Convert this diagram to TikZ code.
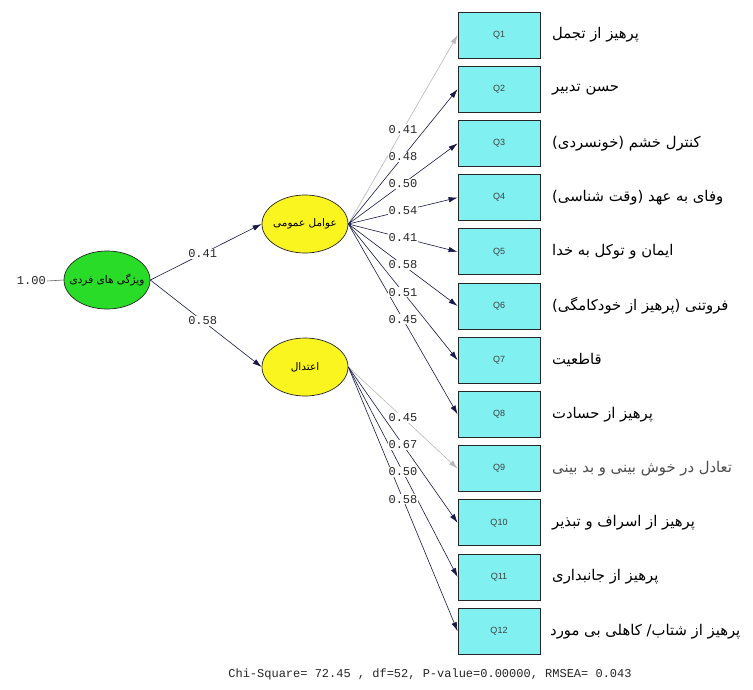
\documentclass[tikz,border=0pt]{standalone}
\usepackage{fontspec}
\usetikzlibrary{shapes.geometric,arrows.meta}
\TeXXeTstate=1
\newfontfamily\arabicfont[Script=Arabic]{DejaVu Sans}
\newfontfamily\monofont{Liberation Mono}
\newfontfamily\qfont{Liberation Sans}
\definecolor{latgreen}{RGB}{40,220,40}
\definecolor{latyellow}{RGB}{250,245,30}
\definecolor{boxcyan}{RGB}{128,240,240}
\definecolor{arrnavy}{RGB}{25,25,75}
\definecolor{arrgray}{RGB}{185,185,185}
\tikzset{
  latent/.style={ellipse, draw=black!85, line width=0.7pt, minimum width=86pt, minimum height=58pt, inner sep=0pt},
  lattext/.style={font=\arabicfont\fontsize{10.5}{12}\selectfont, inner sep=0pt},
  obs/.style={rectangle, draw=black!85, line width=0.8pt, fill=boxcyan, minimum width=82pt, minimum height=46pt, inner sep=0pt, font=\qfont\fontsize{9}{10}\selectfont, text=black!75},
  lab/.style={anchor=west, inner sep=0pt, font=\arabicfont\fontsize{14.8}{17}\selectfont},
  arr/.style={draw=arrnavy, line width=0.6pt, -{Latex[length=9pt,width=5.5pt]}},
  garr/.style={draw=arrgray, line width=0.6pt, -{Latex[length=9pt,width=5.5pt]}},
  lbl/.style={fill=white, inner sep=1pt, font=\monofont\fontsize{12}{13}\selectfont, text=black!85},
}
\begin{document}
\begin{tikzpicture}[x=1pt,y=-1pt]
\useasboundingbox (0,0) rectangle (753,689);
\fill[white] (0,0) rectangle (753,689);

% latent variables
\node[latent, fill=latgreen, label={[lattext]center:\beginR ویژگی های فردی\endR}] (g) at (107,280) {};
\node[latent, fill=latyellow, label={[lattext]center:\beginR عوامل عمومی\endR}] (f1) at (305,224) {};
\node[latent, fill=latyellow, label={[lattext]center:\beginR اعتدال\endR}] (f2) at (305,367) {};

% observed variables
\node[obs] (q1)  at (499,35.0)  {Q1};
\node[obs] (q2)  at (499,89.2)  {Q2};
\node[obs] (q3)  at (499,143.4) {Q3};
\node[obs] (q4)  at (499,197.6) {Q4};
\node[obs] (q5)  at (499,251.8) {Q5};
\node[obs] (q6)  at (499,306.0) {Q6};
\node[obs] (q7)  at (499,360.2) {Q7};
\node[obs] (q8)  at (499,414.4) {Q8};
\node[obs] (q9)  at (499,468.6) {Q9};
\node[obs] (q10) at (499,522.8) {Q10};
\node[obs] (q11) at (499,577.0) {Q11};
\node[obs] (q12) at (499,631.2) {Q12};

% item labels
\node[lab] (l1)  at (552,35.0)  {\beginR پرهیز از تجمل\endR};
\node[lab] (l2)  at (552,89.2)  {\beginR حسن تدبیر\endR};
\node[lab] (l3)  at (552,143.4) {\beginR کنترل خشم (خونسردی)\endR};
\node[lab] (l4)  at (552,197.6) {\beginR وفای به عهد (وقت شناسی)\endR};
\node[lab] (l5)  at (552,251.8) {\beginR ایمان و توکل به خدا\endR};
\node[lab] (l6)  at (552,306.0) {\beginR فروتنی (پرهیز از خودکامگی)\endR};
\node[lab] (l7)  at (552,360.2) {\beginR قاطعیت\endR};
\node[lab] (l8)  at (552,414.4) {\beginR پرهیز از حسادت\endR};
\node[lab, text=black!70] (l9)  at (552,468.6) {\beginR تعادل در خوش بینی و بد بینی\endR};
\node[lab] (l10) at (552,522.8) {\beginR پرهیز از اسراف و تبذیر\endR};
\node[lab] (l11) at (552,577.0) {\beginR پرهیز از جانبداری\endR};
\node[lab] (l12) at (550,631.2) {\beginR پرهیز از  شتاب/ کاهلی بی مورد\endR};

% variance of the second-order factor
\node[lbl, fill=none, anchor=east] (one) at (47,281) {1.00};
\draw[draw=black!60, line width=0.6pt] (one.east) -- (g.west);

% structural paths
\draw[arr] (g.east) -- node[lbl, pos=0.47] {0.41} (f1.west);
\draw[arr] (g.east) -- node[lbl, pos=0.47] {0.58} (f2.west);

% loadings of factor 1
\draw[garr] (f1.east) -- (q1.west);
\draw[arr] (f1.east) -- (q2.west);
\draw[arr] (f1.east) -- (q3.west);
\draw[arr] (f1.east) -- (q4.west);
\draw[arr] (f1.east) -- (q5.west);
\draw[arr] (f1.east) -- (q6.west);
\draw[arr] (f1.east) -- (q7.west);
\draw[arr] (f1.east) -- (q8.west);
% loadings of factor 2
\draw[garr] (f2.east) -- (q9.west);
\draw[arr] (f2.east) -- (q10.west);
\draw[arr] (f2.east) -- (q11.west);
\draw[arr] (f2.east) -- (q12.west);

% loading values
\path (f1.east) -- node[lbl] {0.41} (q1.west);
\path (f1.east) -- node[lbl] {0.48} (q2.west);
\path (f1.east) -- node[lbl] {0.50} (q3.west);
\path (f1.east) -- node[lbl] {0.54} (q4.west);
\path (f1.east) -- node[lbl] {0.41} (q5.west);
\path (f1.east) -- node[lbl] {0.58} (q6.west);
\path (f1.east) -- node[lbl] {0.51} (q7.west);
\path (f1.east) -- node[lbl] {0.45} (q8.west);
\path (f2.east) -- node[lbl] {0.45} (q9.west);
\path (f2.east) -- node[lbl] {0.67} (q10.west);
\path (f2.east) -- node[lbl] {0.50} (q11.west);
\path (f2.east) -- node[lbl] {0.58} (q12.west);

% fit statistics
\node[font=\monofont\fontsize{12}{13}\selectfont, text=black!85] (fit) at (430,674) {Chi-Square= 72.45 , df=52, P-value=0.00000, RMSEA= 0.043};
\end{tikzpicture}
\end{document}
